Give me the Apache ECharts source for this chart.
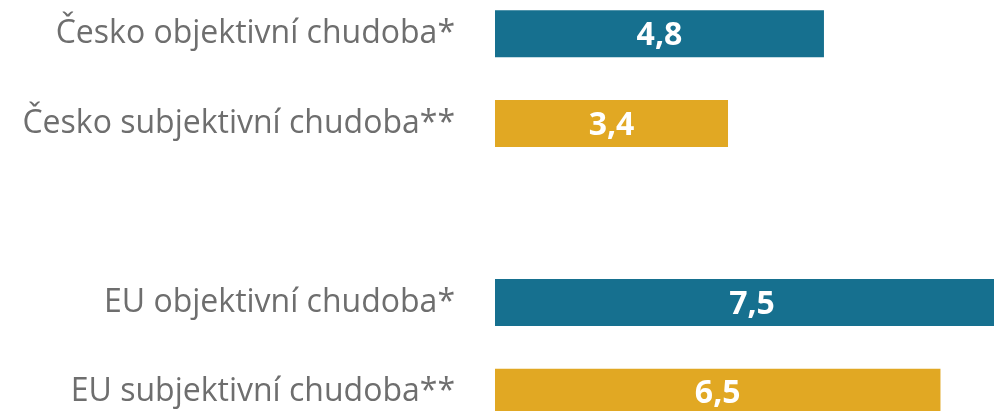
<!DOCTYPE html>
<html>
<head>
<meta charset="utf-8">
<script src="https://cdn.jsdelivr.net/npm/echarts@6/dist/echarts.min.js"></script>
<style>
  html, body { margin: 0; padding: 0; background: #fff; }
  #main { width: 994px; height: 411px; }
</style>
</head>
<body>
<div id="main"></div>
<script>
// categories top to bottom, '' is the empty spacer row
const categories = ['Česko objektivní chudoba*', 'Česko subjektivní chudoba**', '', 'EU objektivní chudoba*', 'EU subjektivní chudoba**'];
const values = [4.8, 3.4, null, 7.5, 6.5];
const barColors = ['#16708f', '#e1a823', null, '#16708f', '#e1a823'];

const chart = echarts.init(document.getElementById('main'));

chart.setOption({
    animation: false,
    backgroundColor: '#fff',
    grid: {
        left: 495, right: -15, top: -11, bottom: -26,
        containLabel: false,
        outerBoundsMode: 'none'
    },
    xAxis: {
        type: 'value',
        min: 0,
        max: 7.5,
        show: false
    },
    yAxis: {
        type: 'category',
        data: categories,
        inverse: true,
        axisLine: { show: false },
        axisTick: { show: false },
        axisLabel: {
            margin: 40,
            color: '#6e6e6e',
            fontFamily: 'Open Sans',
            fontSize: 32,
            padding: [4, 0, 0, 0]
        }
    },
    series: [{
        type: 'bar',
        barWidth: 47,
        data: values.map((v, i) => ({ value: v, itemStyle: { color: barColors[i] } })),
        label: {
            show: true,
            position: 'inside',
            color: '#fff',
            fontFamily: 'Open Sans',
            fontWeight: 'bold',
            fontSize: 32,
            offset: [0, 2],
            formatter: p => p.value == null ? '' : String(p.value).replace('.', ',')
        }
    }]
});
</script>
</body>
</html>
